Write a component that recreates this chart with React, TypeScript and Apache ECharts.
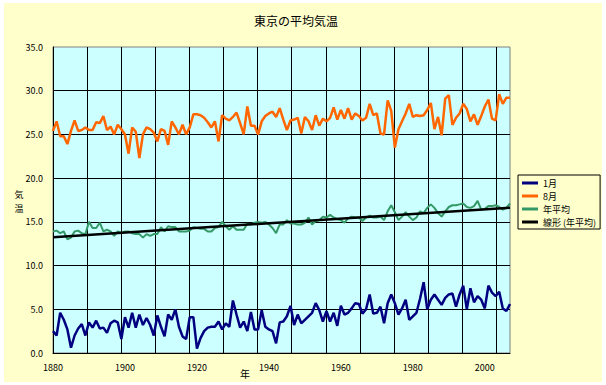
import React, { useEffect, useRef } from "react";
import * as echarts from "echarts";

// Years 1880..2007 (categories of the x axis)
const years: number[] = Array.from({ length: 128 }, (_, i) => 1880 + i);

// 1月 (January mean temperature)
const january: number[] = [
  2.5, 2.0, 4.6, 3.8, 2.7, 0.6, 2.0, 2.8, 3.3, 2.0,
  3.5, 2.9, 3.7, 2.8, 2.9, 2.3, 3.4, 3.7, 3.5, 1.6,
  4.1, 2.9, 4.6, 2.9, 4.4, 3.2, 4.0, 3.2, 2.0, 4.3,
  3.0, 1.9, 4.4, 3.8, 5.0, 3.0, 1.9, 1.6, 4.1, 4.1,
  0.5, 1.7, 2.5, 2.9, 3.0, 3.0, 3.6, 2.7, 3.4, 3.0,
  6.0, 4.4, 2.9, 3.6, 2.5, 4.7, 2.7, 2.7, 4.9, 3.0,
  2.7, 2.5, 1.1, 3.5, 3.6, 4.2, 5.4, 3.2, 4.4, 3.4,
  3.8, 4.2, 4.6, 5.7, 4.9, 3.6, 4.8, 3.6, 4.6, 3.1,
  5.4, 4.4, 4.6, 5.1, 5.7, 5.6, 4.5, 5.0, 6.7, 4.5,
  4.6, 5.3, 3.4, 5.7, 6.7, 5.7, 4.4, 5.1, 6.1, 3.8,
  4.2, 4.6, 6.2, 8.1, 5.0, 6.1, 6.7, 6.1, 5.5, 6.3,
  6.7, 6.8, 5.3, 6.7, 7.7, 5.0, 7.4, 5.8, 6.5, 6.1,
  5.1, 7.7, 6.9, 6.5, 7.0, 5.1, 4.8, 5.6,
];

// 8月 (August mean temperature)
const august: number[] = [
  25.4, 26.5, 24.8, 24.8, 23.9, 25.4, 26.6, 25.4, 25.5, 25.8,
  25.5, 25.5, 26.4, 26.3, 27.1, 25.5, 25.9, 25.0, 26.1, 25.6,
  25.0, 22.8, 25.8, 25.3, 22.3, 25.0, 25.8, 25.6, 25.2, 24.2,
  25.6, 25.4, 23.8, 26.5, 25.8, 25.0, 26.1, 25.0, 25.8, 27.3,
  27.3, 27.2, 26.9, 26.4, 25.8, 26.5, 24.2, 27.2, 26.8, 26.6,
  27.0, 27.5, 26.3, 25.0, 28.2, 26.0, 26.0, 25.0, 26.5, 27.1,
  27.4, 27.6, 27.0, 28.0, 26.7, 25.5, 26.6, 26.7, 26.9, 25.1,
  27.0, 26.5, 25.5, 27.2, 26.0, 26.8, 26.5, 26.9, 28.1, 26.7,
  27.8, 26.8, 28.0, 26.7, 27.4, 27.1, 26.6, 26.9, 28.5, 27.2,
  27.4, 25.1, 25.0, 28.9, 27.7, 23.5, 25.6, 26.5, 27.4, 28.5,
  27.0, 27.2, 27.1, 27.2, 27.8, 28.6, 25.6, 27.0, 24.9, 29.1,
  29.5, 26.1, 26.9, 27.4, 28.5, 27.9, 26.5, 27.3, 26.1, 27.1,
  28.2, 29.0, 26.8, 26.6, 29.6, 28.5, 29.2, 29.2,
];

// 年平均 (annual mean temperature)
const annualMean: number[] = [
  13.9, 14.0, 13.7, 13.9, 13.0, 13.2, 13.9, 14.0, 13.7, 13.6,
  15.0, 14.3, 14.3, 14.9, 13.9, 14.1, 13.9, 13.4, 13.9, 13.7,
  13.9, 13.9, 13.7, 13.6, 13.6, 13.2, 13.6, 13.4, 13.6, 13.6,
  14.4, 13.9, 14.5, 14.4, 14.4, 13.9, 13.9, 13.9, 14.0, 14.4,
  14.3, 14.2, 14.2, 13.9, 13.9, 14.3, 14.4, 15.0, 14.5, 14.1,
  14.5, 14.1, 14.1, 14.1, 14.8, 14.7, 14.9, 15.0, 14.9, 15.0,
  14.7, 14.3, 13.7, 14.7, 14.7, 15.2, 14.8, 14.8, 14.7, 14.7,
  14.9, 15.5, 14.7, 15.1, 15.2, 15.6, 15.5, 15.8, 15.5, 15.3,
  15.2, 14.9, 15.4, 15.6, 15.5, 15.5, 15.1, 15.5, 15.7, 15.5,
  15.5, 15.6, 15.2, 16.2, 16.9, 16.1, 15.2, 15.6, 16.1, 15.6,
  15.2, 15.5, 16.2, 16.0, 16.6, 17.0, 16.6, 16.0, 15.6, 16.2,
  16.7, 16.9, 16.9, 17.0, 17.1, 16.7, 16.6, 16.8, 17.4, 16.4,
  16.5, 16.8, 16.8, 16.9, 16.7, 16.4, 16.6, 17.1,
];

// 線形 (年平均) — linear trend end points
const trendYears: number[] = [1880, 2007];
const trendValues: number[] = [13.25, 16.62];

const seriesNames: string[] = ["1月", "8月", "年平均", "線形 (年平均)"];
const seriesColors: string[] = ["#000080", "#FF6600", "#339966", "#000000"];

const titleText = "東京の平均気温";
const yAxisNameChars: string[] = ["気", "温"];
const xAxisName = "年";

const FONT = '"Noto Sans CJK JP", "Noto Sans", sans-serif';

export default function App() {
  const ref = useRef<HTMLDivElement>(null);

  useEffect(() => {
    if (!ref.current) return;
    const chart = echarts.init(ref.current, null, { renderer: "svg" });

    const pair = (vals: number[]) => years.map((y, i) => [y, vals[i]]);

    const option: any = {
      animation: false,
      backgroundColor: "#ffffff",
      textStyle: { fontFamily: FONT },
      graphic: [
        {
          type: "rect",
          z: -100,
          silent: true,
          shape: { x: 4, y: 3, width: 598, height: 379 },
          style: { fill: "#FFFFCC" },
        },
        {
          type: "text",
          x: 296,
          y: 20,
          style: {
            text: titleText,
            fontSize: 12,
            fontFamily: FONT,
            fill: "#000",
            textAlign: "center",
            textVerticalAlign: "middle",
          },
        },
        ...yAxisNameChars.map((ch, i) => ({
          type: "text",
          x: 19,
          y: 194 + i * 14,
          style: {
            text: ch,
            fontSize: 9,
            fontFamily: FONT,
            fill: "#000",
            textAlign: "center",
            textVerticalAlign: "middle",
          },
        })),
        {
          type: "text",
          x: 245,
          y: 373,
          style: {
            text: xAxisName,
            fontSize: 10,
            fontFamily: FONT,
            fill: "#000",
            textAlign: "center",
            textVerticalAlign: "middle",
          },
        },
      ],
      grid: {
        left: 53,
        top: 47,
        width: 457,
        height: 306,
        show: true,
        backgroundColor: "#CCFFFF",
        borderColor: "#808080",
        borderWidth: 1,
      },
      legend: {
        orient: "vertical",
        left: 518,
        top: 175,
        padding: [2, 4, 1, 4],
        itemWidth: 16,
        itemHeight: 3,
        itemGap: 1,
        icon: "rect",
        backgroundColor: "#FFFFCC",
        borderColor: "#000",
        borderWidth: 1,
        borderRadius: 0,
        textStyle: { fontSize: 9, lineHeight: 12, color: "#000", fontFamily: FONT },
        data: seriesNames,
      },
      xAxis: [
        {
          type: "value",
          min: 1880,
          max: 2007,
          interval: 20,
          axisLine: { show: true, lineStyle: { color: "#000", width: 1 } },
          axisTick: { show: false },
          splitLine: { show: false },
          axisLabel: {
            fontSize: 9,
            color: "#000",
            margin: 10,
            showMaxLabel: false,
            fontFamily: FONT,
            formatter: (v: number) => String(v),
          },
        },
        {
          type: "value",
          min: 0,
          max: 13.4,
          interval: 1,
          position: "top",
          axisLine: { show: false },
          axisTick: { show: false },
          axisLabel: { show: false },
          splitLine: {
            show: true,
            showMinLine: false,
            showMaxLine: false,
            lineStyle: { color: "#000", width: 1 },
          },
        },
      ],
      yAxis: {
        type: "value",
        min: 0,
        max: 35,
        interval: 5,
        axisLine: { show: true, lineStyle: { color: "#000", width: 1 } },
        axisTick: { show: false },
        axisLabel: {
          fontSize: 9,
          color: "#000",
          margin: 10,
          fontFamily: FONT,
          formatter: (v: number) => v.toFixed(1),
        },
        splitLine: {
          show: true,
          showMaxLine: false,
          lineStyle: { color: "#000", width: 1 },
        },
      },
      series: [
        {
          name: seriesNames[0],
          type: "line",
          xAxisIndex: 0,
          data: pair(january),
          showSymbol: false,
          symbol: "none",
          color: seriesColors[0],
          lineStyle: { color: seriesColors[0], width: 2.5 },
        },
        {
          name: seriesNames[1],
          type: "line",
          xAxisIndex: 0,
          data: pair(august),
          showSymbol: false,
          symbol: "none",
          color: seriesColors[1],
          lineStyle: { color: seriesColors[1], width: 2.5 },
        },
        {
          name: seriesNames[2],
          type: "line",
          xAxisIndex: 0,
          data: pair(annualMean),
          showSymbol: false,
          symbol: "none",
          color: seriesColors[2],
          lineStyle: { color: seriesColors[2], width: 2 },
        },
        {
          name: seriesNames[3],
          type: "line",
          xAxisIndex: 0,
          data: trendYears.map((y, i) => [y, trendValues[i]]),
          showSymbol: false,
          symbol: "none",
          color: seriesColors[3],
          lineStyle: { color: seriesColors[3], width: 2.5 },
        },
      ],
    };

    chart.setOption(option);
    return () => chart.dispose();
  }, []);

  return (
    <div
      ref={ref}
      style={{ position: "absolute", left: 0, top: 0, width: 606, height: 385 }}
    />
  );
}
